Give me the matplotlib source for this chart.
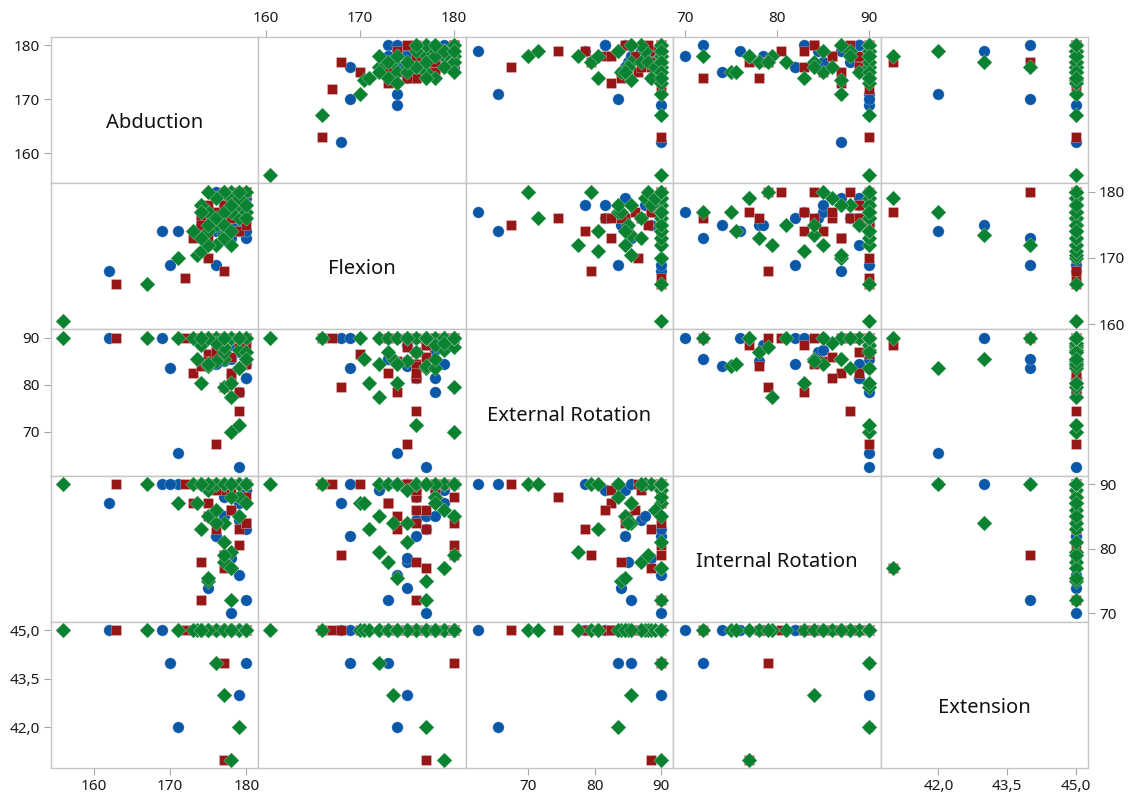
import matplotlib
matplotlib.use("Agg")
import matplotlib.pyplot as plt

plt.rcParams['font.family'] = ['Noto Sans', 'DejaVu Sans']

var_names = ["Abduction", "Flexion", "External Rotation", "Internal Rotation", "Extension"]

# ---- group 1 (blue circles) ----
blue_abd  = [162, 169, 171, 170, 180, 176, 179, 179, 179, 178, 179, 175, 177, 179, 180, 180, 178,
             178, 176, 180, 174, 175, 176, 177, 178, 180, 179, 175, 180, 177, 176, 174, 180]
blue_flex = [168, 174, 174, 169, 173, 169, 177, 175, 178, 177, 174, 175, 175, 176, 176, 179, 175,
             173, 176, 178, 173, 172, 174, 176, 180, 180, 179, 177, 177, 178, 180, 175, 174]
blue_er   = [90, 90, 65.5, 83.5, 85.5, 90, 62.5, 90, 78.5, 90, 90, 84, 85, 87, 81.5, 84.5, 88.5,
             85.5, 84.5, 81.5, 90, 90, 90, 90, 90, 90, 90, 90, 90, 87.5, 90, 88.5, 90]
blue_ir   = [87, 90, 90, 90, 72, 82, 90, 90, 90, 70, 76, 74, 78, 84.5, 89, 89, 78.5,
             90, 82, 89, 90, 89, 90, 88, 90, 90, 87, 85, 83, 85, 90, 90, 90]
blue_ext  = [45, 45, 42, 44, 44, 45, 45, 43, 45, 45, 45, 45, 45, 45, 45, 45, 45,
             45, 45, 45, 45, 45, 45, 45, 45, 45, 45, 45, 45, 45, 45, 45, 45]

# ---- group 2 (red squares) ----
red_abd  = [163, 172, 177, 177, 177, 176, 179, 179, 175, 173, 178, 180, 174, 174, 179, 176,
            175, 175, 178, 180, 176, 177, 174, 179, 180, 178, 180, 175, 176, 178, 180]
red_flex = [166, 167, 168, 177, 180, 175, 176, 174, 170, 173, 176, 176, 176, 176, 180, 177,
            174, 173, 177, 180, 179, 178, 175, 178, 180, 176, 180, 178, 176, 179, 175]
red_er   = [90, 90, 79.5, 88.5, 90, 67.5, 74.5, 78.5, 86.5, 82.5, 81.5, 84.5, 90, 84, 90, 88.5,
            85, 90, 86, 90, 90, 90, 90, 89, 90, 82.5, 90, 90, 87, 90, 88]
red_ir   = [90, 90, 79, 77, 79, 90, 88, 83, 90, 87, 86, 84, 72, 78, 80.5, 83,
            85, 87, 86, 90, 90, 89, 90, 90, 84, 89, 88, 90, 89, 90, 90]
red_ext  = [45, 45, 45, 41, 44, 45, 45, 45, 45, 45, 45, 45, 45, 45, 45, 45,
            45, 45, 45, 45, 45, 45, 45, 45, 45, 45, 45, 45, 45, 45, 45]

# ---- group 3 (green diamonds) ----
green_abd  = [156, 167, 171, 173.5, 178, 179, 177, 176, 178, 179, 178, 177, 174, 175, 177, 179,
              175, 178, 178, 177, 179, 176, 175, 180, 174, 175, 176, 177, 178, 179, 180, 174,
              176, 179, 173, 180, 177, 175, 178, 174, 180]
green_flex = [160.5, 166, 170, 170.5, 179, 177, 173.5, 172, 180, 176, 172, 180, 171, 172, 173, 179,
              177, 177, 179, 180, 178, 175, 174, 180, 173, 175, 176, 177, 178, 179, 177, 178,
              179, 180, 174, 176, 175, 180, 174, 177, 178]
green_er   = [90, 90, 90, 85.5, 90, 83.5, 85.5, 90, 70, 71.5, 77.5, 79.5, 80.5, 84.5, 87, 87.5,
              84, 90, 90, 88, 83.5, 85, 84.5, 90, 90, 90, 90, 90, 90, 90, 90, 88.5,
              89, 90, 90, 87, 90, 90, 80.5, 90, 85.5]
green_ir   = [90, 90, 87, 87, 77, 90, 84, 90, 90, 90, 79.5, 90, 83, 85, 78, 90,
              75, 72, 77, 79, 88, 84, 75.5, 90, 90, 89, 90, 90, 88, 90, 90, 90,
              86, 85, 90, 90, 81, 90, 90, 90, 87]
green_ext  = [45, 45, 45, 45, 41, 42, 43, 44, 45, 45, 45, 45, 45, 45, 45, 45,
              45, 45, 45, 45, 45, 45, 45, 45, 45, 45, 45, 45, 45, 45, 45, 45,
              45, 45, 45, 45, 45, 45, 45, 45, 45]

var_ticks = [[160, 170, 180], [160, 170, 180], [70, 80, 90], [70, 80, 90], [42.0, 43.5, 45.0]]
var_ticklabels = [["160", "170", "180"], ["160", "170", "180"], ["70", "80", "90"],
                  ["70", "80", "90"], ["42,0", "43,5", "45,0"]]

groups = [
    ([blue_abd, blue_flex, blue_er, blue_ir, blue_ext], "#0B57A8", "o", 68),
    ([red_abd, red_flex, red_er, red_ir, red_ext], "#971616", "s", 60),
    ([green_abd, green_flex, green_er, green_ir, green_ext], "#0B8230", "D", 62),
]

nvar = len(var_names)
lims = []
for k in range(nvar):
    vals = [v for g in groups for v in g[0][k]]
    lo, hi = min(vals), max(vals)
    pad = 0.065 * (hi - lo)
    lims.append((lo - pad, hi + pad))

W, H = 1132, 799
fig = plt.figure(figsize=(W / 100, H / 100), dpi=100)
gs = fig.add_gridspec(nvar, nvar, left=51 / W, right=1088 / W, top=1 - 37 / H,
                      bottom=1 - 768 / H, wspace=0, hspace=0)

frame_col = "#c6c6c6"
for i in range(nvar):
    for j in range(nvar):
        ax = fig.add_subplot(gs[i, j])
        ax.set_xlim(lims[j])
        ax.set_ylim(lims[i])
        for sp in ax.spines.values():
            sp.set_color(frame_col)
            sp.set_linewidth(1.0)
        if i == j:
            ax.text(0.5, 0.41, var_names[i], transform=ax.transAxes, ha="center", va="center",
                    fontsize=14.5, color="#111111")
        else:
            for data, col, mk, sz in groups:
                ax.scatter(data[j], data[i], s=sz, c=col, marker=mk,
                           edgecolors=(1, 1, 1, 0.35), linewidths=0.5, zorder=3)
        ax.set_xticks(var_ticks[j])
        ax.set_xticklabels(var_ticklabels[j])
        ax.set_yticks(var_ticks[i])
        ax.set_yticklabels(var_ticklabels[i])
        show_top = (i == 0 and j % 2 == 1)
        show_bottom = (i == nvar - 1 and j % 2 == 0)
        show_left = (j == 0 and i % 2 == 0)
        show_right = (j == nvar - 1 and i % 2 == 1)
        ax.tick_params(axis="x", top=show_top, labeltop=show_top,
                       bottom=show_bottom, labelbottom=show_bottom,
                       length=5, width=0.8, color="#a8a8a8", labelsize=11,
                       labelcolor="#1a1a1a", pad=3)
        ax.tick_params(axis="y", left=show_left, labelleft=show_left,
                       right=show_right, labelright=show_right,
                       length=5, width=0.8, color="#a8a8a8", labelsize=11,
                       labelcolor="#1a1a1a", pad=3)

fig.savefig("out.png", dpi=100)
